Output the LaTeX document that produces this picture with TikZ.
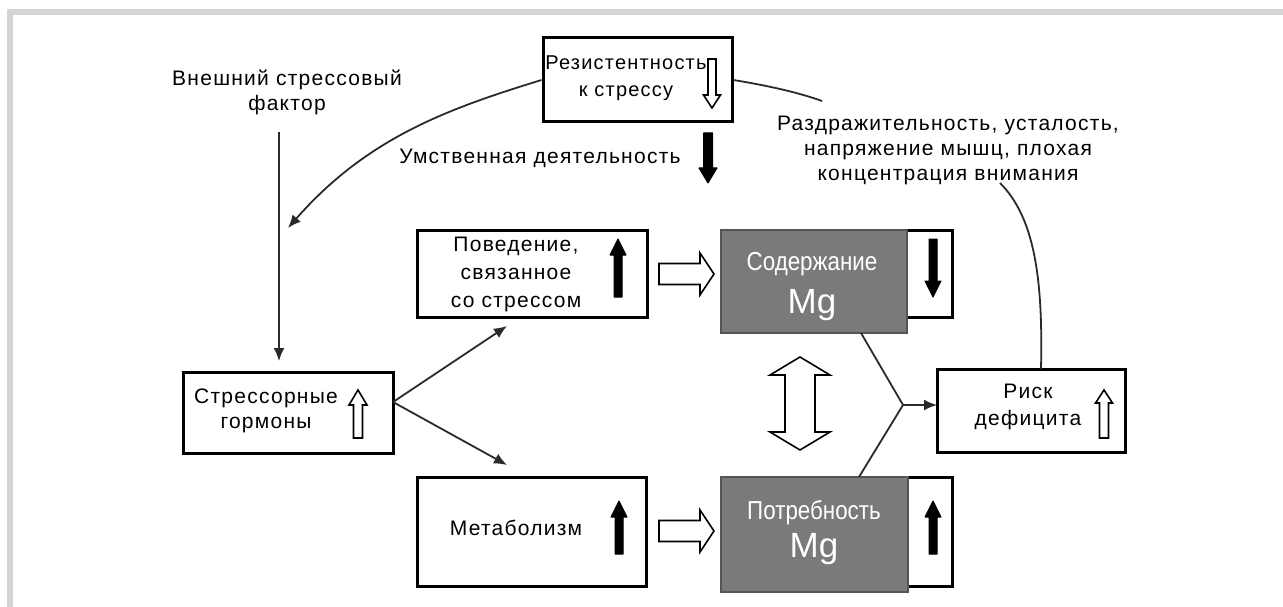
\documentclass[tikz,border=0pt]{standalone}
\usepackage{fontspec}
\setmainfont{Liberation Sans}[LetterSpace=6]
\newfontfamily\narrowfont{Liberation Sans}[FakeStretch=0.86]
\newfontfamily\mgfont{Liberation Sans}
\usetikzlibrary{arrows.meta}
\definecolor{frameg}{HTML}{D4D4D4}
\definecolor{mggray}{HTML}{7A7A7A}
\definecolor{mgedge}{HTML}{555555}
\definecolor{conncol}{HTML}{2A2A2A}
% vertical block arrow: style, x, tail y, head-base y, tip y, half shaft, half head
\newcommand\myvarrow[7]{\filldraw[#1] (#2-#6,#3) -- (#2-#6,#4) -- (#2-#7,#4) -- (#2,#5) -- (#2+#7,#4) -- (#2+#6,#4) -- (#2+#6,#3) -- cycle;}
% horizontal block arrow: style, y, tail x, head-base x, tip x, half shaft, half head
\newcommand\myharrow[7]{\filldraw[#1] (#3,#2-#6) -- (#4,#2-#6) -- (#4,#2-#7) -- (#5,#2) -- (#4,#2+#7) -- (#4,#2+#6) -- (#3,#2+#6) -- cycle;}
\tikzset{
  box/.style={draw=black, line width=3pt, fill=white, inner sep=0pt},
  mgbox/.style={draw=mgedge, fill=mggray, line width=2pt, inner sep=0pt},
  lbl/.style={font=\fontsize{21}{27}\selectfont, align=center, inner sep=0pt},
  mgtxt/.style={font=\narrowfont\fontsize{26}{30}\selectfont, text=white, inner sep=0pt},
  mgbig/.style={font=\mgfont\fontsize{35}{40}\selectfont, text=white, inner sep=0pt},
  conn/.style={draw=conncol, line width=1.8pt},
  tip/.style={-{Latex[length=13pt,width=11pt]}},
  solidarrow/.style={fill=black, draw=black, line width=1pt, line join=round},
  hollow/.style={fill=white, draw=black, line width=1.6pt, line join=miter},
}
\begin{document}
\begin{tikzpicture}[x=1pt, y=-1pt]
\useasboundingbox (0,0) rectangle (1283,607);
% frame
\draw[frameg, line width=6pt] (10,607) -- (10,12) -- (1283,12);

% boxes
\node[box, minimum width=189, minimum height=84] (res) at (637.5,80) {};
\node[box, minimum width=210, minimum height=81] (str) at (288,412.5) {};
\node[box, minimum width=230, minimum height=87] (beh) at (532,273.5) {};
\node[box, minimum width=229, minimum height=109] (met) at (532,531.5) {};
\node[box, minimum width=231, minimum height=87] (sodw) at (836.5,273.5) {};
\node[mgbox, minimum width=186, minimum height=103] (sodg) at (814,281.5) {};
\node[box, minimum width=231, minimum height=109] (potw) at (836.5,531.5) {};
\node[mgbox, minimum width=187, minimum height=115] (potg) at (814.5,534.5) {};
\node[box, minimum width=188, minimum height=83] (risk) at (1031,410.5) {};

% coordinates for connector ends
\coordinate (vstart) at (279,132);
\coordinate (vend) at (279,361);
\coordinate (ctip) at (288,228);
\coordinate (arcA) at (822,101);
\coordinate (arcB) at (1000,183);
\coordinate (riskTop) at (1041,369);
\coordinate (strOut) at (393,402);
\coordinate (behTip) at (507,326);
\coordinate (metTip) at (507,465);
\coordinate (jA) at (861,333);
\coordinate (jB) at (859,477);
\coordinate (j) at (903,405);
\coordinate (riskIn) at (937,405);

% connectors
\draw[conn, tip] (vstart) -- (vend);
\draw[conn, tip] (res.west) .. controls (447,109) and (367,138) .. (ctip);
\draw[conn] (res.east) .. controls (770,86) and (800,93) .. (arcA);
\draw[conn] (arcB) .. controls (1035,218) and (1043,280) .. (riskTop);
\draw[conn, tip] (strOut) -- (behTip);
\draw[conn, tip] (strOut) -- (metTip);
\draw[conn] (jA) -- (j) -- (jB);
\draw[conn, tip] (j) -- (riskIn);

% free labels
\node[lbl, font=\fontsize{21}{25}\selectfont] (ext) at (287,92.5) {Внешний стрессовый\\фактор};
\node[lbl] (mental) at (540,158) {Умственная деятельность};
\node[lbl, font=\fontsize{21}{25}\selectfont] (irrit) at (948,150) {Раздражительность, усталость,\\напряжение мышц, плохая\\концентрация внимания};

% box labels
\node[lbl, font=\fontsize{20}{27}\selectfont] (resT) at (626,78.5) {Резистентность\\к стрессу};
\node[lbl, font=\fontsize{21}{25}\selectfont] (strT) at (266,410.5) {Стрессорные\\гормоны};
\node[lbl, font=\fontsize{21}{28}\selectfont] (behT) at (516,274) {Поведение,\\связанное\\со стрессом};
\node[lbl] (metT) at (516,528) {Метаболизм};
\node[mgtxt] (sodT) at (812,264) {Содержание};
\node[mgbig] (sodMg) at (812,305) {Mg};
\node[mgtxt] (potT) at (814,513) {Потребность};
\node[mgbig] (potMg) at (814,549) {Mg};
\node[lbl] (riskT) at (1028,406.5) {Риск\\дефицита};

% block arrows
\myvarrow{hollow}{712}{59}{95}{108}{4}{8.5}
\myvarrow{hollow}{358}{438}{405}{390}{4.5}{9}
\myvarrow{hollow}{1104}{438}{403}{390}{4.5}{8.5}
\myvarrow{solidarrow}{708}{133}{168}{183}{4.5}{9}
\myvarrow{solidarrow}{618}{297}{255}{239}{4}{8}
\myvarrow{solidarrow}{933}{239}{281}{297}{4}{8}
\myvarrow{solidarrow}{619}{554}{517}{501}{4}{8}
\myvarrow{solidarrow}{933}{554}{517}{501}{4}{8}
\myharrow{hollow}{274}{659}{700}{714}{10.5}{21}
\myharrow{hollow}{531}{659}{700}{714}{10.5}{21}
\filldraw[hollow] (800,357) -- (830,375) -- (815,375) -- (815,432) -- (830,432) -- (800,450) -- (770,432) -- (785,432) -- (785,375) -- (770,375) -- cycle;
\end{tikzpicture}
\end{document}
